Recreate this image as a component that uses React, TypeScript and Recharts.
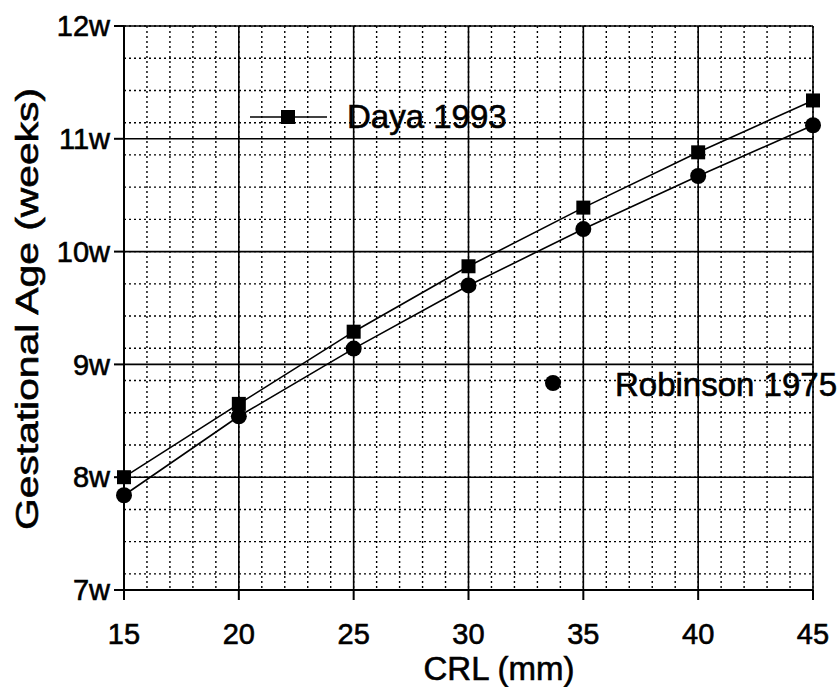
import { LineChart, Line, XAxis, YAxis, CartesianGrid, Label } from 'recharts';

const crl = [15, 20, 25, 30, 35, 40, 45];
const daya1993 = [8.0, 8.65, 9.29, 9.87, 10.39, 10.88, 11.34];
const robinson1975 = [7.84, 8.54, 9.14, 9.7, 10.2, 10.67, 11.12];
const xTicks = [15, 20, 25, 30, 35, 40, 45];
const yTicks = [7, 8, 9, 10, 11, 12];

const FONT = 'Arial, "Liberation Sans", Helvetica, sans-serif';

// minor grid: every mm, every day (1/7 week)
const minorX: number[] = [];
for (let v = 15; v <= 45; v++) minorX.push(v);
const minorY: number[] = [];
for (let d = 0; d <= 35; d++) minorY.push(7 + d / 7);

const data = crl.map((c, i) => ({ crl: c, daya: daya1993[i], robinson: robinson1975[i] }));

const SquareDot = (props: any) => {
  const { cx, cy } = props;
  if (cx == null || cy == null) return null;
  return <rect x={cx - 7} y={cy - 7} width={14} height={14} fill="#000" />;
};

const RoundDot = (props: any) => {
  const { cx, cy } = props;
  if (cx == null || cy == null) return null;
  return <circle cx={cx} cy={cy} r={8} fill="#000" />;
};

// scanned print looks heavier than regular weight
const tickStyle = { fill: '#000', fontSize: 29, fontFamily: FONT, stroke: '#000', strokeWidth: 0.6 };

export default function App() {
  return (
    <div style={{ position: 'absolute', left: 0, top: 0, width: 839, height: 687, background: '#fff' }}>
      <LineChart width={839} height={687} data={data} margin={{ top: 26, right: 26, left: 0, bottom: 0 }}>
        <CartesianGrid
          stroke="#000"
          strokeWidth={1.4}
          strokeDasharray="2 3"
          verticalValues={minorX}
          horizontalValues={minorY}
        />
        <CartesianGrid stroke="#000" strokeWidth={1.6} />
        <XAxis
          dataKey="crl"
          type="number"
          domain={[15, 45]}
          ticks={xTicks}
          tickSize={10}
          tickMargin={23}
          height={97}
          axisLine={{ stroke: '#000', strokeWidth: 2 }}
          tickLine={{ stroke: '#000', strokeWidth: 2 }}
          tick={tickStyle}
        >
          <Label
            content={() => (
              <text x={499} y={680} textAnchor="middle" fontSize={33} fontFamily={FONT} fill="#000" stroke="#000" strokeWidth={0.6}>
                CRL (mm)
              </text>
            )}
          />
        </XAxis>
        <YAxis
          type="number"
          domain={[7, 12]}
          ticks={yTicks}
          width={124}
          tickSize={10}
          tickMargin={4}
          tickFormatter={(v: number) => `${v}w`}
          axisLine={{ stroke: '#000', strokeWidth: 2 }}
          tickLine={{ stroke: '#000', strokeWidth: 2 }}
          tick={tickStyle}
        >
          <Label
            content={() => (
              <text
                x={-309}
                y={38}
                transform="rotate(-90)"
                textAnchor="middle"
                fontSize={31}
                fontFamily={FONT}
                fill="#000"
                stroke="#000"
                strokeWidth={0.6}
                textLength={442}
                lengthAdjust="spacingAndGlyphs"
              >
                Gestational Age (weeks)
              </text>
            )}
          />
        </YAxis>
        <Line
          dataKey="daya"
          type="linear"
          stroke="#000"
          strokeWidth={1.6}
          dot={<SquareDot />}
          activeDot={false}
          isAnimationActive={false}
        />
        <Line
          dataKey="robinson"
          type="linear"
          stroke="#000"
          strokeWidth={1.6}
          dot={<RoundDot />}
          activeDot={false}
          isAnimationActive={false}
        />
      </LineChart>
      <svg
        width={839}
        height={687}
        style={{ position: 'absolute', left: 0, top: 0, pointerEvents: 'none' }}
      >
        <line x1={250} y1={117} x2={327} y2={117} stroke="#000" strokeWidth={1.6} />
        <rect x={281} y={110} width={14} height={14} fill="#000" />
        <text x={347} y={128} fontSize={33} fontFamily={FONT} fill="#000" stroke="#000" strokeWidth={0.6}>
          Daya 1993
        </text>
        <circle cx={553} cy={383} r={8} fill="#000" />
        <text x={615} y={396} fontSize={33} fontFamily={FONT} fill="#000" stroke="#000" strokeWidth={0.6}>
          Robinson 1975
        </text>
      </svg>
    </div>
  );
}
